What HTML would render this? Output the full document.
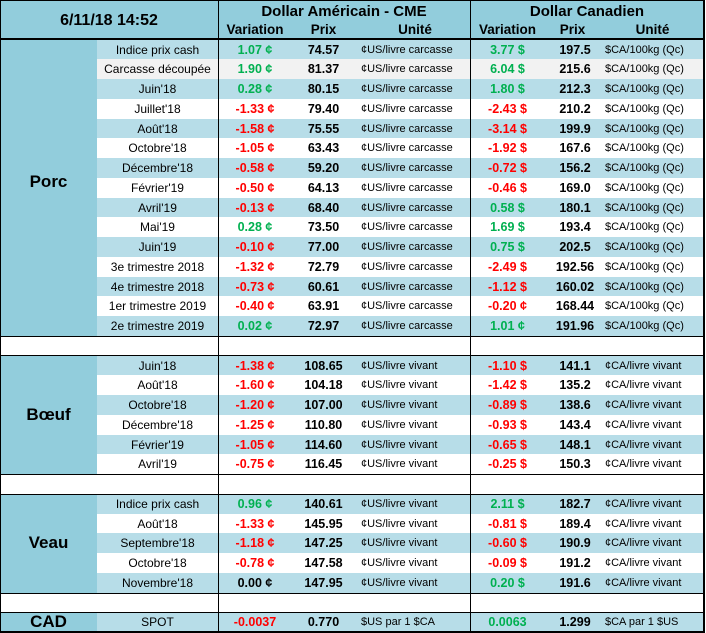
<!DOCTYPE html><html><head><meta charset="utf-8"><style>
body{margin:0;width:706px;height:633px;background:#fff;position:relative;overflow:hidden;font-family:"Liberation Sans",sans-serif;}
.a{position:absolute;}
.r{position:absolute;left:97px;width:607px;height:19.75px;font-size:11.5px;line-height:21px;color:#000;}
.r span{position:absolute;top:0;white-space:nowrap;}
.b{background:#b7dde8}.w{background:#fff}.g{background:#f2f2f2}
.s{left:0;width:121px;text-align:center;font-size:12px;}
.v{left:121px;width:74px;text-align:center;font-weight:bold;font-size:12.5px;}
.p{left:195px;width:63px;text-align:center;font-weight:bold;font-size:12.5px;}
.u{left:264px;font-size:11px;}
.v2{left:373px;width:75px;text-align:center;font-weight:bold;font-size:12.5px;}
.p2{left:448px;width:60px;text-align:center;font-weight:bold;font-size:12.5px;}
.u2{left:508px;font-size:11px;}
.G{color:#00b050}.R{color:#ff0000}
.lab{position:absolute;left:0;width:97px;background:#92cddc;font-weight:bold;font-size:17px;display:flex;align-items:center;justify-content:center;}
.hl{position:absolute;left:0;width:704px;height:1px;background:#000;}
.vl{position:absolute;top:0;width:1px;height:633px;background:#000;}
.h{position:absolute;font-weight:bold;text-align:center;white-space:nowrap;}
</style></head><body>
<div class="a" style="left:0;top:0;width:704px;height:38px;background:#92cddc"></div>
<div class="h" style="left:0;width:218px;top:12px;font-size:16px">6/11/18 14:52</div>
<div class="h" style="left:218px;width:252px;top:3px;font-size:15px">Dollar Américain - CME</div>
<div class="h" style="left:470px;width:234px;top:3px;font-size:15px">Dollar Canadien</div>
<div class="h" style="left:218px;width:74px;top:22px;font-size:13.5px">Variation</div>
<div class="h" style="left:292px;width:63px;top:22px;font-size:13.5px">Prix</div>
<div class="h" style="left:370px;width:90px;top:22px;font-size:13.5px">Unité</div>
<div class="h" style="left:470px;width:75px;top:22px;font-size:13.5px">Variation</div>
<div class="h" style="left:545px;width:55px;top:22px;font-size:13.5px">Prix</div>
<div class="h" style="left:605px;width:95px;top:22px;font-size:13.5px">Unité</div>

<div class="lab" style="top:39.5px;height:284px">Porc</div>
<div class="a" style="left:0;top:323px;width:97px;height:13px;background:#92cddc"></div>
<div class="r b" style="top:39.5px"><span class="s">Indice prix cash</span><span class="v G">1.07 ¢</span><span class="p">74.57</span><span class="u">¢US/livre carcasse</span><span class="v2 G">3.77 $</span><span class="p2">197.5</span><span class="u2">$CA/100kg (Qc)</span></div>
<div class="r g" style="top:59.25px"><span class="s">Carcasse découpée</span><span class="v G">1.90 ¢</span><span class="p">81.37</span><span class="u">¢US/livre carcasse</span><span class="v2 G">6.04 $</span><span class="p2">215.6</span><span class="u2">$CA/100kg (Qc)</span></div>
<div class="r b" style="top:79px"><span class="s">Juin'18</span><span class="v G">0.28 ¢</span><span class="p">80.15</span><span class="u">¢US/livre carcasse</span><span class="v2 G">1.80 $</span><span class="p2">212.3</span><span class="u2">$CA/100kg (Qc)</span></div>
<div class="r w" style="top:98.75px"><span class="s">Juillet'18</span><span class="v R">-1.33 ¢</span><span class="p">79.40</span><span class="u">¢US/livre carcasse</span><span class="v2 R">-2.43 $</span><span class="p2">210.2</span><span class="u2">$CA/100kg (Qc)</span></div>
<div class="r b" style="top:118.5px"><span class="s">Août'18</span><span class="v R">-1.58 ¢</span><span class="p">75.55</span><span class="u">¢US/livre carcasse</span><span class="v2 R">-3.14 $</span><span class="p2">199.9</span><span class="u2">$CA/100kg (Qc)</span></div>
<div class="r w" style="top:138.25px"><span class="s">Octobre'18</span><span class="v R">-1.05 ¢</span><span class="p">63.43</span><span class="u">¢US/livre carcasse</span><span class="v2 R">-1.92 $</span><span class="p2">167.6</span><span class="u2">$CA/100kg (Qc)</span></div>
<div class="r b" style="top:158px"><span class="s">Décembre'18</span><span class="v R">-0.58 ¢</span><span class="p">59.20</span><span class="u">¢US/livre carcasse</span><span class="v2 R">-0.72 $</span><span class="p2">156.2</span><span class="u2">$CA/100kg (Qc)</span></div>
<div class="r w" style="top:177.75px"><span class="s">Février'19</span><span class="v R">-0.50 ¢</span><span class="p">64.13</span><span class="u">¢US/livre carcasse</span><span class="v2 R">-0.46 $</span><span class="p2">169.0</span><span class="u2">$CA/100kg (Qc)</span></div>
<div class="r b" style="top:197.5px"><span class="s">Avril'19</span><span class="v R">-0.13 ¢</span><span class="p">68.40</span><span class="u">¢US/livre carcasse</span><span class="v2 G">0.58 $</span><span class="p2">180.1</span><span class="u2">$CA/100kg (Qc)</span></div>
<div class="r w" style="top:217.25px"><span class="s">Mai'19</span><span class="v G">0.28 ¢</span><span class="p">73.50</span><span class="u">¢US/livre carcasse</span><span class="v2 G">1.69 $</span><span class="p2">193.4</span><span class="u2">$CA/100kg (Qc)</span></div>
<div class="r b" style="top:237px"><span class="s">Juin'19</span><span class="v R">-0.10 ¢</span><span class="p">77.00</span><span class="u">¢US/livre carcasse</span><span class="v2 G">0.75 $</span><span class="p2">202.5</span><span class="u2">$CA/100kg (Qc)</span></div>
<div class="r w" style="top:256.75px"><span class="s">3e trimestre 2018</span><span class="v R">-1.32 ¢</span><span class="p">72.79</span><span class="u">¢US/livre carcasse</span><span class="v2 R">-2.49 $</span><span class="p2">192.56</span><span class="u2">$CA/100kg (Qc)</span></div>
<div class="r b" style="top:276.5px"><span class="s">4e trimestre 2018</span><span class="v R">-0.73 ¢</span><span class="p">60.61</span><span class="u">¢US/livre carcasse</span><span class="v2 R">-1.12 $</span><span class="p2">160.02</span><span class="u2">$CA/100kg (Qc)</span></div>
<div class="r w" style="top:296.25px"><span class="s">1er trimestre 2019</span><span class="v R">-0.40 ¢</span><span class="p">63.91</span><span class="u">¢US/livre carcasse</span><span class="v2 R">-0.20 ¢</span><span class="p2">168.44</span><span class="u2">$CA/100kg (Qc)</span></div>
<div class="r b" style="top:316px"><span class="s">2e trimestre 2019</span><span class="v G">0.02 ¢</span><span class="p">72.97</span><span class="u">¢US/livre carcasse</span><span class="v2 G">1.01 ¢</span><span class="p2">191.96</span><span class="u2">$CA/100kg (Qc)</span></div>

<div class="lab" style="top:355.5px;height:118.5px">Bœuf</div>
<div class="r b" style="top:355.5px"><span class="s">Juin'18</span><span class="v R">-1.38 ¢</span><span class="p">108.65</span><span class="u">¢US/livre vivant</span><span class="v2 R">-1.10 $</span><span class="p2">141.1</span><span class="u2">¢CA/livre vivant</span></div>
<div class="r w" style="top:375.25px"><span class="s">Août'18</span><span class="v R">-1.60 ¢</span><span class="p">104.18</span><span class="u">¢US/livre vivant</span><span class="v2 R">-1.42 $</span><span class="p2">135.2</span><span class="u2">¢CA/livre vivant</span></div>
<div class="r b" style="top:395px"><span class="s">Octobre'18</span><span class="v R">-1.20 ¢</span><span class="p">107.00</span><span class="u">¢US/livre vivant</span><span class="v2 R">-0.89 $</span><span class="p2">138.6</span><span class="u2">¢CA/livre vivant</span></div>
<div class="r w" style="top:414.75px"><span class="s">Décembre'18</span><span class="v R">-1.25 ¢</span><span class="p">110.80</span><span class="u">¢US/livre vivant</span><span class="v2 R">-0.93 $</span><span class="p2">143.4</span><span class="u2">¢CA/livre vivant</span></div>
<div class="r b" style="top:434.5px"><span class="s">Février'19</span><span class="v R">-1.05 ¢</span><span class="p">114.60</span><span class="u">¢US/livre vivant</span><span class="v2 R">-0.65 $</span><span class="p2">148.1</span><span class="u2">¢CA/livre vivant</span></div>
<div class="r w" style="top:454.25px"><span class="s">Avril'19</span><span class="v R">-0.75 ¢</span><span class="p">116.45</span><span class="u">¢US/livre vivant</span><span class="v2 R">-0.25 $</span><span class="p2">150.3</span><span class="u2">¢CA/livre vivant</span></div>

<div class="lab" style="top:493.75px;height:98.75px">Veau</div>
<div class="r b" style="top:493.75px"><span class="s">Indice prix cash</span><span class="v G">0.96 ¢</span><span class="p">140.61</span><span class="u">¢US/livre vivant</span><span class="v2 G">2.11 $</span><span class="p2">182.7</span><span class="u2">¢CA/livre vivant</span></div>
<div class="r w" style="top:513.5px"><span class="s">Août'18</span><span class="v R">-1.33 ¢</span><span class="p">145.95</span><span class="u">¢US/livre vivant</span><span class="v2 R">-0.81 $</span><span class="p2">189.4</span><span class="u2">¢CA/livre vivant</span></div>
<div class="r b" style="top:533.25px"><span class="s">Septembre'18</span><span class="v R">-1.18 ¢</span><span class="p">147.25</span><span class="u">¢US/livre vivant</span><span class="v2 R">-0.60 $</span><span class="p2">190.9</span><span class="u2">¢CA/livre vivant</span></div>
<div class="r w" style="top:553px"><span class="s">Octobre'18</span><span class="v R">-0.78 ¢</span><span class="p">147.58</span><span class="u">¢US/livre vivant</span><span class="v2 R">-0.09 $</span><span class="p2">191.2</span><span class="u2">¢CA/livre vivant</span></div>
<div class="r b" style="top:572.75px"><span class="s">Novembre'18</span><span class="v">0.00 ¢</span><span class="p">147.95</span><span class="u">¢US/livre vivant</span><span class="v2 G">0.20 $</span><span class="p2">191.6</span><span class="u2">¢CA/livre vivant</span></div>

<div class="lab" style="top:612.25px;height:19.75px">CAD</div>
<div class="r b" style="top:612.25px"><span class="s">SPOT</span><span class="v R">-0.0037</span><span class="p">0.770</span><span class="u">$US par 1 $CA</span><span class="v2 G">0.0063</span><span class="p2">1.299</span><span class="u2">$CA par 1 $US</span></div>

<div class="hl" style="top:0"></div>
<div class="hl" style="top:38px;height:2px"></div>
<div class="hl" style="top:335.5px"></div>
<div class="hl" style="top:355px"></div>
<div class="hl" style="top:474px"></div>
<div class="hl" style="top:493.5px"></div>
<div class="hl" style="top:592.5px"></div>
<div class="hl" style="top:612px"></div>
<div class="hl" style="top:631px;height:2px"></div>
<div class="vl" style="left:0"></div>
<div class="vl" style="left:218px"></div>
<div class="vl" style="left:470px"></div>
<div class="vl" style="left:703px;width:2px"></div>
</body></html>
